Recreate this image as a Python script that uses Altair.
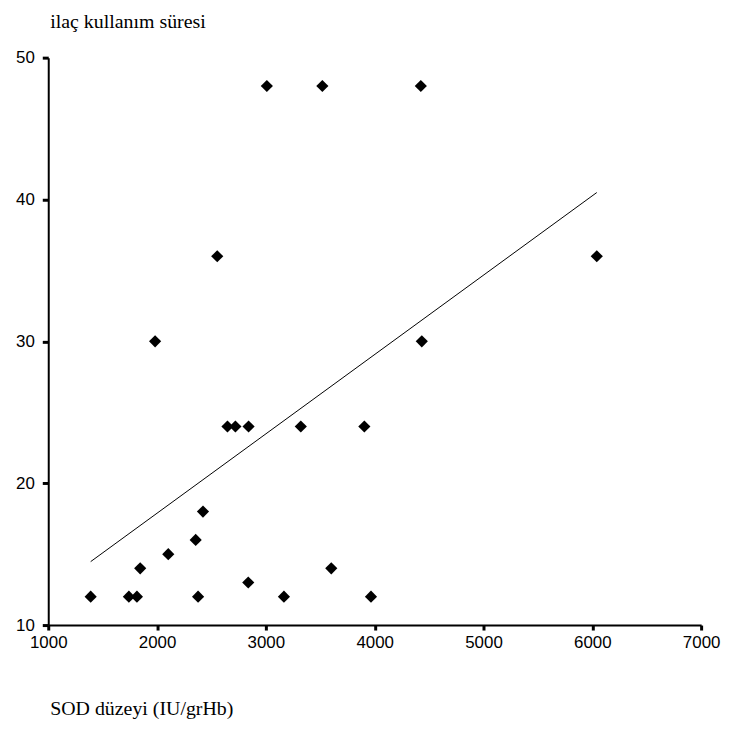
import altair as alt
import pandas as pd

# SOD level (IU/grHb) and drug use duration
sod = [1390, 1741, 1815, 2377, 3166, 3966, 1845, 3601, 2103, 2355, 2422, 2838,
       2647, 2720, 2841, 3321, 3905, 1982, 4433, 2553, 6041, 3009, 3519, 4424]
sure = [12, 12, 12, 12, 12, 12, 14, 14, 15, 16, 18, 13,
        24, 24, 24, 24, 24, 30, 30, 36, 36, 48, 48, 48]

x_ticks = [1000, 2000, 3000, 4000, 5000, 6000, 7000]
y_ticks = [10, 20, 30, 40, 50]

df = pd.DataFrame({"sod": sod, "sure": sure})

x_enc = alt.X(
    "sod:Q",
    scale=alt.Scale(domain=[1000, 7000], nice=False, zero=False),
    axis=alt.Axis(
        values=x_ticks, format="d", grid=False,
        domainColor="black", domainWidth=2,
        tickColor="black", tickWidth=3, tickSize=5,
        labelFont="Liberation Sans", labelFontSize=17, labelColor="black",
        labelPadding=5, labelFlush=False,
        title="SOD düzeyi (IU/grHb)", titleFont="Liberation Serif",
        titleFontSize=20, titleFontWeight="normal", titleColor="black",
        titleAlign="left", titleBaseline="alphabetic",
        titleX=1.5, titleY=90,
    ),
)
y_enc = alt.Y(
    "sure:Q",
    scale=alt.Scale(domain=[10, 50], nice=False, zero=False),
    axis=alt.Axis(
        values=y_ticks, format="d", grid=False,
        domainColor="black", domainWidth=2,
        tickColor="black", tickWidth=3, tickSize=6,
        labelFont="Liberation Sans", labelFontSize=17, labelColor="black",
        labelPadding=8, labelFlush=False,
        title="ilaç kullanım süresi", titleFont="Liberation Serif",
        titleFontSize=20, titleFontWeight="normal", titleColor="black",
        titleAngle=0, titleAlign="left", titleBaseline="alphabetic",
        titleX=1.5, titleY=-30,
    ),
)

points = alt.Chart(df).mark_point(
    shape="diamond", filled=True, color="black", size=150, opacity=1
).encode(x=x_enc, y=y_enc)

line = alt.Chart(df).transform_regression(
    "sod", "sure"
).mark_line(color="black", strokeWidth=1).encode(x=x_enc, y=y_enc)

chart = (
    alt.layer(points, line)
    .properties(
        width=657, height=571,
        padding={"left": 40.5, "top": 47.7, "right": 20, "bottom": 100},
        autosize=alt.AutoSizeParams(type="none"),
        background="white",
    )
    .configure_view(stroke=None)
)

chart.save("out.html", embed_options={"renderer": "svg", "actions": False})
